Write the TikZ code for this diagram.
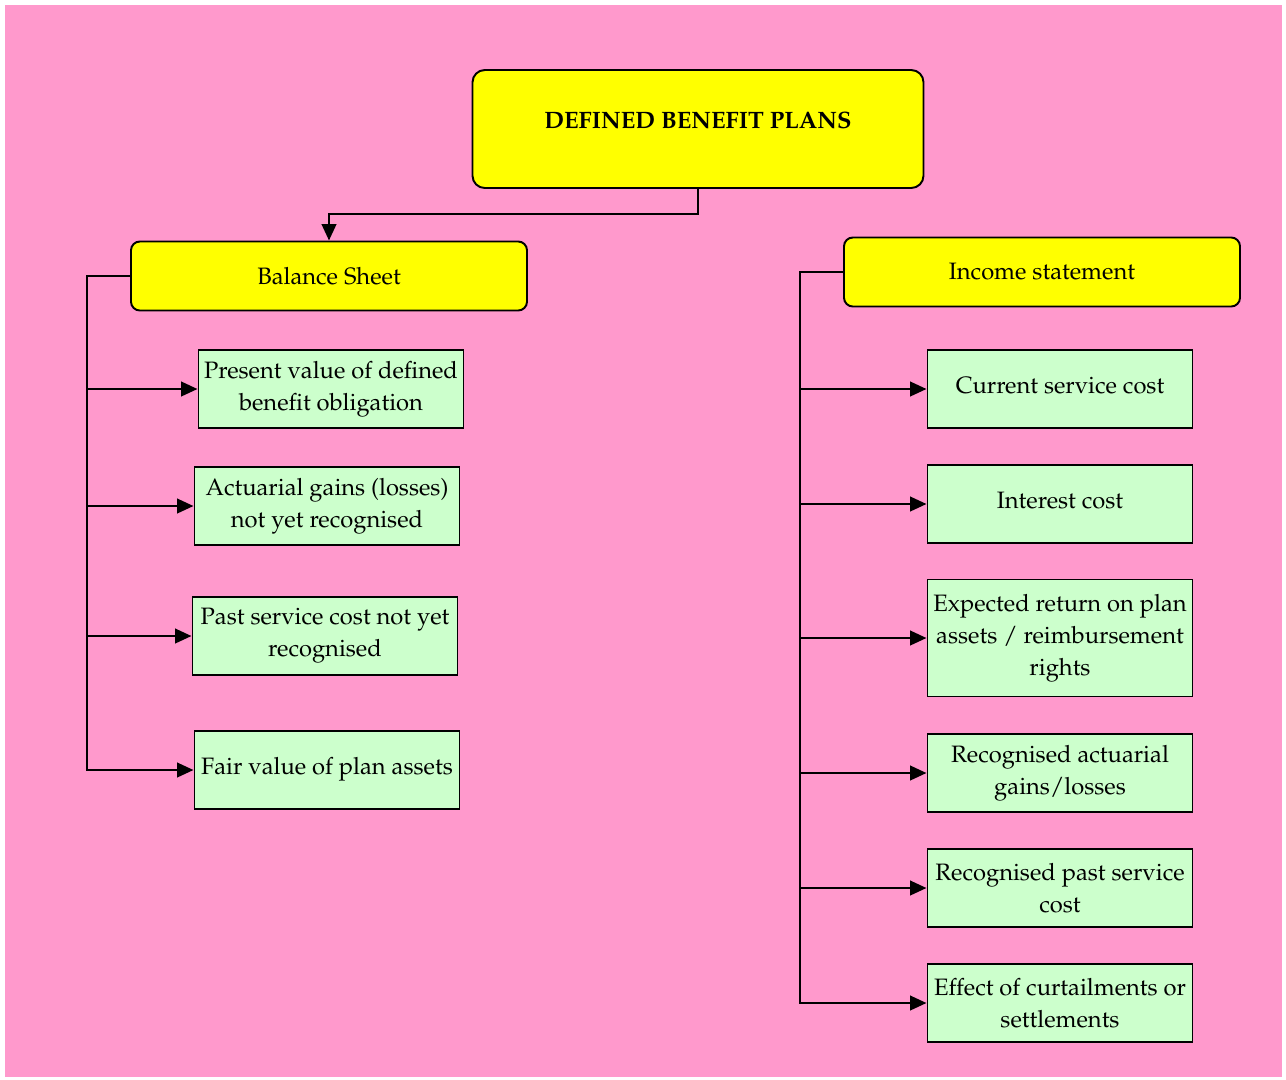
\documentclass[tikz,border=0pt]{standalone}
\usepackage[T1]{fontenc}
\usepackage{mathpazo}
\usetikzlibrary{arrows.meta}

\definecolor{bgpink}{HTML}{FF99CC}
\definecolor{headyellow}{HTML}{FFFF00}
\definecolor{itemgreen}{HTML}{CCFFCC}

\tikzset{
  headbox/.style={draw=black, line width=1.1pt, fill=headyellow, rounded corners=5pt,
    minimum width=79.2mm, minimum height=13.8mm, inner sep=0pt},
  itembox/.style={draw=black, line width=1.1pt, fill=itemgreen, align=center,
    minimum width=53mm, minimum height=15.6mm, inner sep=1pt},
  oneline/.style={text height=3.4mm, text depth=1.8mm},
  conn/.style={line width=1.5pt, -{Triangle[length=3.3mm,width=2.9mm]}},
}

\begin{document}
\begin{tikzpicture}[x=0.2mm, y=-0.2mm, line join=miter, font=\fontsize{13.5}{18.2}\selectfont]

				% Nền hồng
				\useasboundingbox (0,0) rectangle (1286,1079);
				\fill[bgpink] (5,5) rectangle (1282,1077);

				% Ô tiêu đề
				\node[draw=black, line width=1.1pt, fill=headyellow, rounded corners=7pt,
				  minimum width=90.2mm, minimum height=23.6mm, inner sep=0pt,
				  text height=3.6mm, text depth=4.0mm, font=\fontsize{13.5}{16.5}\selectfont\bfseries]
				  (dbp) at (698,129) {DEFINED BENEFIT PLANS};

				% Hai nhánh chính
				\node[headbox] (bs) at (329,276) {Balance Sheet};
				\node[headbox] (is) at (1042,272) {Income statement};

				% Các ô bên trái
				\node[itembox] (pv) at (331,389) {Present value of defined\\benefit obligation};
				\node[itembox] (ag) at (327,506) {Actuarial gains (losses)\\not yet recognised};
				\node[itembox] (ps) at (325,636) {Past service cost not yet\\recognised};
				\node[itembox, oneline] (fv) at (327,770) {Fair value of plan assets};

				% Các ô bên phải
				\node[itembox, oneline] (cs) at (1060,389) {Current service cost};
				\node[itembox, oneline] (ic) at (1060,504) {Interest cost};
				\node[itembox, minimum height=23.4mm] (er) at (1060,638) {Expected return on plan\\assets / reimbursement\\rights};
				\node[itembox] (ra) at (1060,773) {Recognised actuarial\\gains/losses};
				\node[itembox] (rp) at (1060,888) {Recognised past service\\cost};
				\node[itembox] (ec) at (1060,1003) {Effect of curtailments or\\settlements};

				% Điểm gấp của các đường nối
				\coordinate (split) at (698,214);
				\coordinate (lbend) at (87,276);
				\coordinate (rbend) at (800,272);

				% Đường nối từ tiêu đề
				\draw[conn] (dbp.south) -- (split) -| (bs.north);

				% Nhánh trái
				\draw[conn] (bs.west) -- (lbend) |- (fv.west);
				\draw[conn] (lbend |- pv.west) -- (pv.west);
				\draw[conn] (lbend |- ag.west) -- (ag.west);
				\draw[conn] (lbend |- ps.west) -- (ps.west);

				% Nhánh phải
				\draw[conn] (is.west) -- (rbend) |- (ec.west);
				\draw[conn] (rbend |- cs.west) -- (cs.west);
				\draw[conn] (rbend |- ic.west) -- (ic.west);
				\draw[conn] (rbend |- er.west) -- (er.west);
				\draw[conn] (rbend |- ra.west) -- (ra.west);
				\draw[conn] (rbend |- rp.west) -- (rp.west);

			\end{tikzpicture}
\end{document}
